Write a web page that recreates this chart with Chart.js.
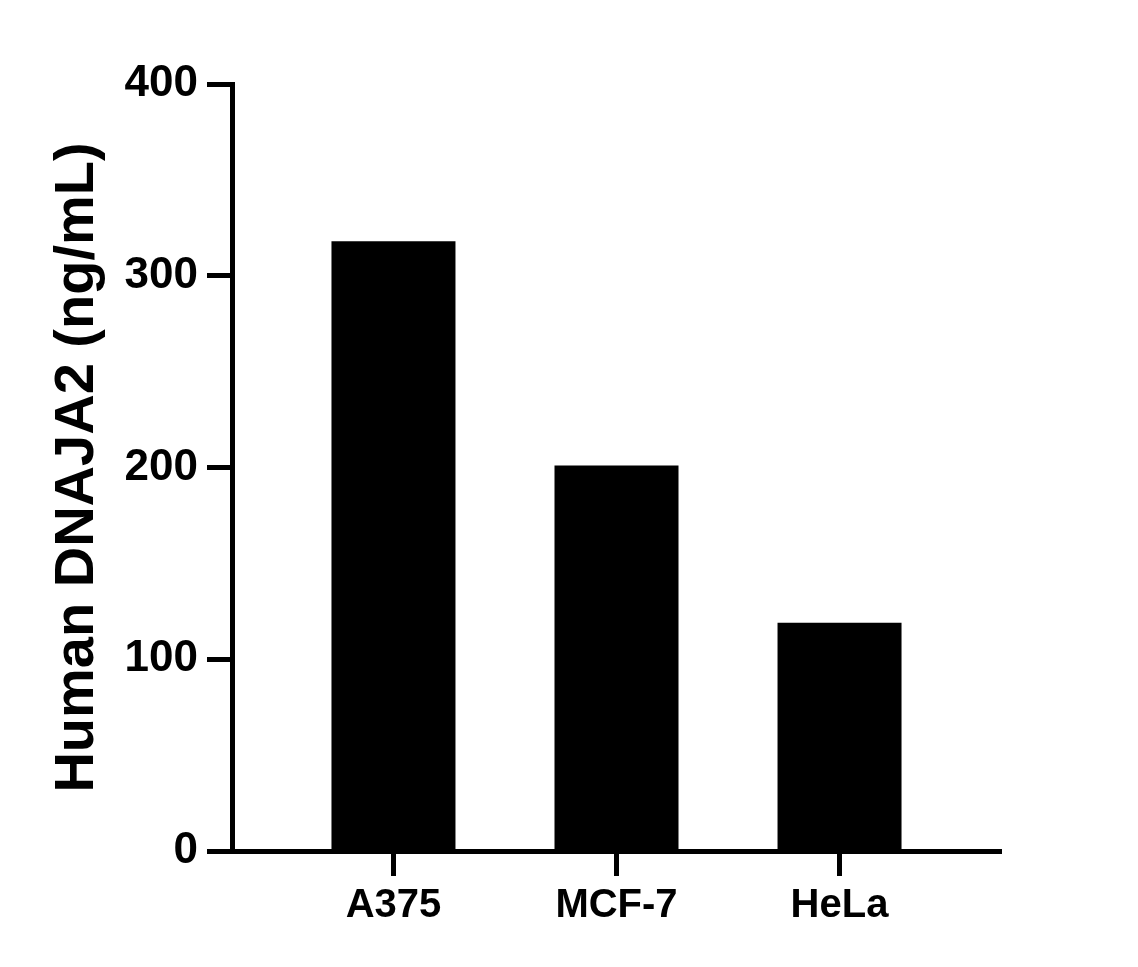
<!DOCTYPE html>
<html>
<head>
<meta charset="utf-8">
<title>Human DNAJA2</title>
<script src="https://cdn.jsdelivr.net/npm/chart.js@4"></script>
<style>
  body { margin: 0; background: #fff; }
  #wrap { width: 1138px; height: 967px; }
</style>
</head>
<body>
<div id="wrap"><canvas id="bar-chart"></canvas></div>
<script>
// values
const categories = ["A375", "MCF-7", "HeLa"];
const values = [318, 201, 119];
const yTicks = [0, 100, 200, 300, 400];
const yTitle = "Human DNAJA2 (ng/mL)";

const font = "'Liberation Sans', Arial, sans-serif";

// bars sit on a linear x axis at 1, 2, 3 so the gaps at the ends can match
const points = values.map((v, i) => ({ x: i + 1, y: v }));

const config = {
  type: "bar",
  data: {
    datasets: [
      {
        data: points,
        backgroundColor: "#000",
        borderWidth: 0,
        categoryPercentage: 1,
        barPercentage: 0.556,
      },
    ],
  },
  options: {
    responsive: true,
    maintainAspectRatio: false,
    animation: false,
    layout: { padding: { top: 84, right: 137, left: 0, bottom: 0 } },
    plugins: { legend: { display: false }, tooltip: { enabled: false } },
    scales: {
      x: {
        type: "linear",
        offset: false,
        min: 0.276,
        max: 3.724,
        afterBuildTicks: (scale) => {
          scale.ticks = categories.map((c, i) => ({ value: i + 1 }));
        },
        afterFit: (scale) => {
          scale.height = 116;
        },
        ticks: {
          callback: (value) => categories[value - 1],
          color: "#000",
          font: { family: font, size: 40, weight: "bold" },
          padding: 6,
          maxRotation: 0,
          autoSkip: false,
        },
        grid: {
          display: true,
          offset: false,
          drawOnChartArea: false,
          drawTicks: true,
          tickLength: 25,
          tickWidth: 5,
          tickColor: "#000",
        },
        border: { display: true, color: "#000", width: 5 },
      },
      y: {
        min: 0,
        max: 400,
        afterBuildTicks: (scale) => {
          scale.ticks = yTicks.map((v) => ({ value: v }));
        },
        afterFit: (scale) => {
          scale.width = 232;
        },
        ticks: {
          color: "#000",
          font: { family: font, size: 44, weight: "bold" },
          padding: 9,
        },
        grid: {
          display: true,
          drawOnChartArea: false,
          drawTicks: true,
          tickLength: 25,
          tickWidth: 5,
          tickColor: "#000",
        },
        border: { display: true, color: "#000", width: 5 },
        title: {
          display: true,
          text: yTitle,
          color: "#000",
          font: { family: font, size: 56, weight: "bold" },
          padding: { top: 44, bottom: 0 },
        },
      },
    },
  },
};

const ctx = document.getElementById("bar-chart").getContext("2d");
window.myBar = new Chart(ctx, config);
</script>
</body>
</html>
